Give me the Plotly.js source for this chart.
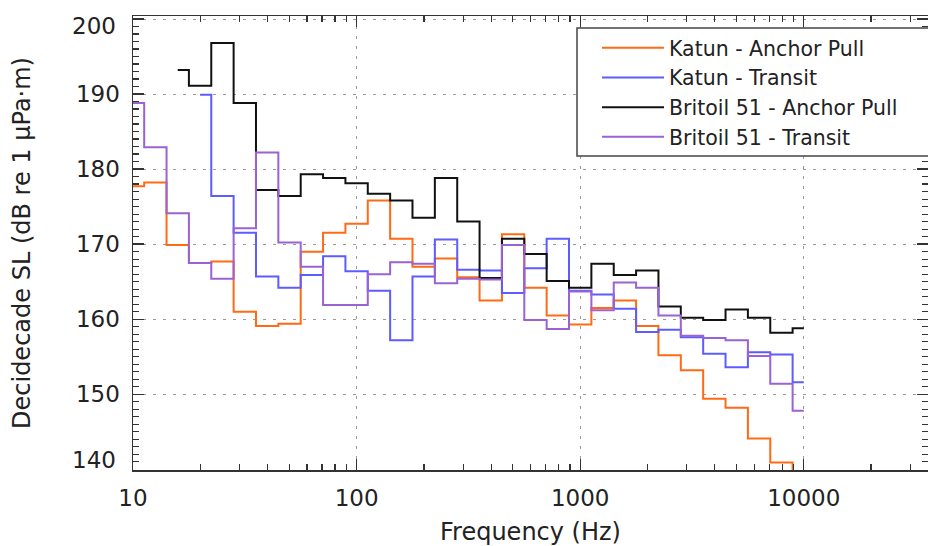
<!DOCTYPE html>
<html>
<head>
<meta charset="utf-8">
<script src="https://cdn.plot.ly/plotly-3.0.1.min.js"></script>
<style>html,body{margin:0;padding:0;background:#fff;overflow:hidden}</style>
</head>
<body>
<div id="chart" style="width:928px;height:546px"></div>
<script>
// Decidecade band centre frequencies (Hz)
const freqs = [10, 12.59, 15.85, 19.95, 25.12, 31.62, 39.81, 50.12, 63.10, 79.43,
  100, 125.9, 158.5, 199.5, 251.2, 316.2, 398.1, 501.2, 631.0, 794.3,
  1000, 1259, 1585, 1995, 2512, 3162, 3981, 5012, 6310, 7943, 10000];

const seriesNames = ["Katun - Anchor Pull", "Katun - Transit", "Britoil 51 - Anchor Pull", "Britoil 51 - Transit"];

const katunAnchor = [177.7, 178.2, 169.9, 167.5, 167.7, 161.0, 159.1, 159.4, 169.0, 171.5,
  172.7, 175.8, 170.7, 167.0, 168.1, 165.6, 162.5, 171.3, 164.2, 160.5,
  159.3, 161.5, 162.5, 159.1, 155.2, 153.2, 149.4, 148.2, 144.1, 140.9, 137.0];

const katunTransit = [null, null, null, 189.9, 176.4, 171.5, 165.7, 164.2, 165.9, 168.4,
  166.4, 163.8, 157.2, 165.7, 170.6, 166.6, 166.5, 163.5, 166.8, 170.7,
  163.8, 163.3, 161.4, 158.3, 158.6, 157.6, 155.4, 153.6, 155.6, 155.3, 151.6];

const britoilAnchor = [null, null, 193.2, 191.1, 196.8, 188.8, 177.2, 176.4, 179.3, 178.8,
  178.1, 176.7, 175.8, 173.5, 178.8, 173.0, 165.5, 170.7, 168.7, 165.1,
  164.2, 167.4, 165.9, 166.5, 161.7, 160.2, 159.9, 161.3, 160.2, 158.2, 158.8];

const britoilTransit = [188.8, 182.9, 174.1, 167.5, 165.4, 172.1, 182.2, 170.2, 167.0, 161.9,
  161.9, 166.0, 167.6, 167.4, 164.8, 165.4, 165.3, 169.9, 159.9, 158.7,
  163.7, 161.2, 164.9, 164.2, 160.5, 157.8, 157.5, 157.2, 155.1, 151.4, 147.8];

const xTickVals = [10, 100, 1000, 10000];
const xTickText = ["10", "100", "1000", "10000"];
const xMinorVals = [20,30,40,50,60,70,80,90,200,300,400,500,600,700,800,900,
  2000,3000,4000,5000,6000,7000,8000,9000,20000,30000];
const yTickVals = [140, 150, 160, 170, 180, 190, 200];
const yTickText = ["", "150", "160", "170", "180", "190", ""];

const colors = ["#FF6A14", "#5C5CFF", "#111111", "#9A62D2"];
const allSeries = [katunAnchor, katunTransit, britoilAnchor, britoilTransit];

const FONT = "DejaVu Sans, Liberation Sans, Arial, sans-serif";

const traces = allSeries.map((vals, i) => ({
  type: "scatter",
  mode: "lines",
  x: freqs,
  y: vals,
  name: seriesNames[i],
  line: {color: colors[i], width: 2, shape: "hvh"},
  connectgaps: false
}));

const axisCommon = {
  showline: true,
  linecolor: "#333",
  linewidth: 1.5,
  mirror: "ticks",
  ticks: "inside",
  ticklen: 11,
  tickwidth: 1.3,
  tickcolor: "#333",
  showgrid: true,
  gridcolor: "#9a9a9a",
  gridwidth: 1,
  griddash: "3px,7px",
  zeroline: false,
  ticklabelstandoff: 7,
  tickfont: {family: FONT, size: 23, color: "#222"}
};

const PW = 795, PH = 454, ML = 133, MT = 16;
const layout = {
  width: 928,
  height: 546,
  margin: {l: ML, r: 0, t: MT, b: 76},
  paper_bgcolor: "#fff",
  plot_bgcolor: "#fff",
  font: {family: FONT, color: "#222"},
  showlegend: true,
  legend: {
    x: (597 - ML) / PW,
    y: 1 - (28 - MT) / PH,
    xanchor: "left",
    yanchor: "top",
    bgcolor: "rgba(0,0,0,0)",
    borderwidth: 0,
    font: {family: FONT, size: 20.5, color: "#222"},
    itemwidth: 62,
    tracegroupgap: 0
  },
  shapes: [
    {type: "rect", xref: "paper", yref: "paper", layer: "above",
     x0: (577 - ML) / PW, x1: 1.05, y0: 1 - (156 - MT) / PH, y1: 1 - (28 - MT) / PH,
     fillcolor: "#fff", line: {color: "#444", width: 1.5}}
  ],
  xaxis: Object.assign({}, axisCommon, {
    type: "log",
    range: [1, 4.5555],
    tickmode: "array",
    tickvals: xTickVals,
    ticktext: xTickText,
    minor: {tickmode: "array", tickvals: xMinorVals, ticks: "inside", ticklen: 6, tickwidth: 1.2, tickcolor: "#333", showgrid: false},
    title: {text: "Frequency (Hz)", font: {family: FONT, size: 24, color: "#222"}, standoff: 23}
  }),
  yaxis: Object.assign({}, axisCommon, {
    range: [139.9, 200.4],
    tickmode: "array",
    tickvals: yTickVals,
    ticktext: yTickText,
    minor: {dtick: 1, ticks: "inside", ticklen: 6, tickwidth: 1.2, tickcolor: "#333", showgrid: false},
    title: {text: "Decidecade SL (dB re 1 μPa·m)", font: {family: FONT, size: 24, color: "#222"}, standoff: 38}
  }),
  annotations: [
    {xref: "paper", yref: "y", x: 0, y: 199.05, text: "200", showarrow: false, xanchor: "right", xshift: -15, font: {family: FONT, size: 23, color: "#222"}},
    {xref: "paper", yref: "y", x: 0, y: 141.25, text: "140", showarrow: false, xanchor: "right", xshift: -15, font: {family: FONT, size: 23, color: "#222"}}
  ]
};

Plotly.newPlot("chart", traces, layout, {displayModeBar: false, staticPlot: true});
</script>
</body>
</html>
